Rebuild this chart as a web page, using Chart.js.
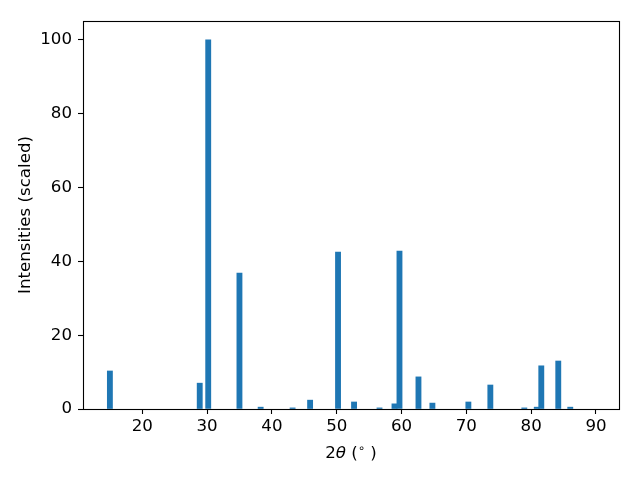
<!DOCTYPE html>
<html>
<head>
<meta charset="utf-8">
<script src="https://cdn.jsdelivr.net/npm/chart.js@4/dist/chart.umd.min.js"></script>
<style>
  body { margin: 0; background: #fff; }
  #wrap { width: 640px; height: 480px; }
</style>
</head>
<body>
<div id="wrap"><canvas id="myChart" width="640" height="480"></canvas></div>
<script>
// peak positions (2 theta, degrees) and scaled intensities
var twoTheta = [15.0, 28.86, 30.17, 34.99, 38.26, 43.19, 45.89, 50.2, 52.67, 56.6, 58.91, 59.68, 62.61, 64.76, 70.31, 73.7, 78.94, 80.86, 81.56, 84.18, 86.03];
var intensity = [10.3, 7.0, 100, 36.8, 0.5, 0.3, 2.4, 42.5, 1.9, 0.3, 1.4, 42.8, 8.7, 1.6, 1.9, 6.5, 0.3, 0.5, 11.7, 13.0, 0.5];
var xTicks = [20, 30, 40, 50, 60, 70, 80, 90];
var yTicks = [0, 20, 40, 60, 80, 100];

var points = twoTheta.map(function (t, i) { return { x: t, y: intensity[i] }; });

var fontFamily = "'DejaVu Sans', sans-serif";
var tickFont = { family: fontFamily, size: 16.67 };

// frame round the plot area and the x title with mixed styles
var framePlugin = {
    id: 'frame',
    afterDraw: function (chart) {
        var ctx = chart.ctx;
        var a = chart.chartArea;
        ctx.save();
        ctx.strokeStyle = '#000';
        ctx.lineWidth = 1.1;
        ctx.strokeRect(Math.round(a.left) + 0.5, Math.round(a.top) + 0.5,
            Math.round(a.right - a.left), Math.round(a.bottom - a.top));

        // x axis title: 2θ (°)
        var parts = [
            { t: '2', f: '16.67px ' + fontFamily, dy: 0 },
            { t: 'θ', f: 'italic 16.67px ' + fontFamily, dy: 0 },
            { t: ' (', f: '16.67px ' + fontFamily, dy: 0 },
            { t: '∘', f: '11.5px ' + fontFamily, dy: -6 },
            { t: ' )', f: '16.67px ' + fontFamily, dy: 0 }
        ];
        var total = 0;
        parts.forEach(function (p) { ctx.font = p.f; p.w = ctx.measureText(p.t).width; total += p.w; });
        var x = (a.left + a.right) / 2 - total / 2;
        ctx.fillStyle = '#000';
        ctx.textBaseline = 'alphabetic';
        parts.forEach(function (p) {
            ctx.font = p.f;
            ctx.fillText(p.t, x, 458 + p.dy);
            x += p.w;
        });
        ctx.restore();
    }
};

var ctx = document.getElementById('myChart').getContext('2d');
var myChart = new Chart(ctx, {
    type: 'bar',
    data: {
        datasets: [{
            label: '',
            data: points,
            backgroundColor: '#1f77b4',
            borderWidth: 0,
            barThickness: 5.2
        }]
    },
    options: {
        responsive: false,
        animation: false,
        layout: { padding: { top: 21, right: 21, left: 0, bottom: 0 } },
        plugins: { legend: { display: false }, tooltip: { enabled: false } },
        scales: {
            x: {
                type: 'linear',
                min: 10.85,
                max: 93.55,
                offset: false,
                afterBuildTicks: function (scale) {
                    scale.ticks = xTicks.map(function (v) { return { value: v }; });
                },
                afterFit: function (scale) { scale.height = 71; },
                grid: { display: true, drawOnChartArea: false, tickLength: 5, tickColor: '#000', tickWidth: 1.1, offset: false },
                border: { display: false },
                ticks: { color: '#000', font: tickFont, padding: 3, maxRotation: 0 }
            },
            y: {
                min: 0,
                max: 105.1,
                afterBuildTicks: function (scale) {
                    scale.ticks = yTicks.map(function (v) { return { value: v }; });
                },
                afterFit: function (scale) { scale.width = 83; },
                grid: { display: true, drawOnChartArea: false, tickLength: 5, tickColor: '#000', tickWidth: 1.1 },
                border: { display: false },
                ticks: { color: '#000', font: tickFont, padding: 6 },
                title: {
                    display: true,
                    text: 'Intensities (scaled)',
                    color: '#000',
                    font: { family: fontFamily, size: 16.67 },
                    padding: { top: 16, bottom: 16 }
                }
            }
        }
    },
    plugins: [framePlugin]
});
</script>
</body>
</html>
